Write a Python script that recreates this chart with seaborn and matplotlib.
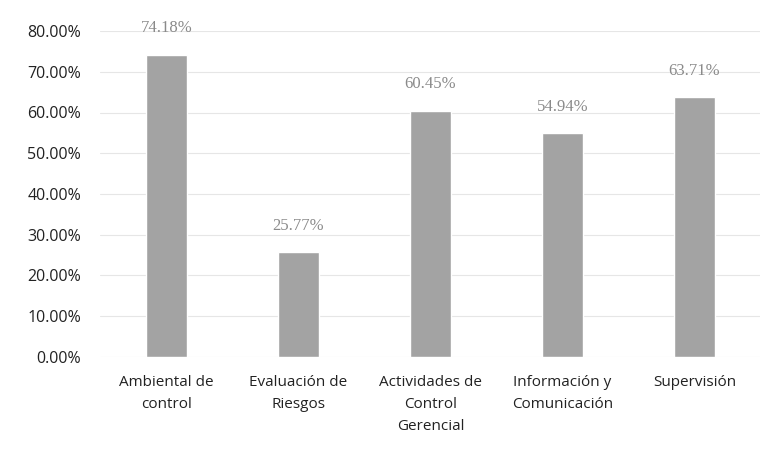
import numpy as np
import pandas as pd
import matplotlib
matplotlib.use("Agg")
import matplotlib.pyplot as plt
import seaborn as sns

sns.set_style("white")
plt.rcParams['font.family'] = ['Open Sans', 'DejaVu Sans']

categorias = ["Ambiental de\ncontrol", "Evaluación de\nRiesgos", "Actividades de\nControl\nGerencial",
              "Información y\nComunicación", "Supervisión"]
valores = [0.7418, 0.2577, 0.6045, 0.5494, 0.6371]
etiquetas = ["74.18%", "25.77%", "60.45%", "54.94%", "63.71%"]
yticks = [0.0, 0.1, 0.2, 0.3, 0.4, 0.5, 0.6, 0.7, 0.8]

df = pd.DataFrame({"cat": categorias, "val": valores})

fig = plt.figure(figsize=(7.72, 4.5), dpi=100)
ax = fig.add_axes([0.13, 0.207, 0.855, 0.724])

sns.barplot(data=df, x="cat", y="val", color="#a3a3a3", width=0.31, ax=ax, zorder=3)

ax.set_ylim(0, 0.8)
ax.set_yticks(yticks)
ax.set_yticklabels(["%.2f%%" % (t * 100) for t in yticks], fontsize=11.5, color="#222222")
ax.grid(axis="y", color="#e6e6e6", linewidth=0.8, zorder=0)
ax.tick_params(axis="x", labelsize=11, colors="#222222", length=0, pad=13)
ax.tick_params(axis="y", length=0, pad=14)
for lab in ax.get_xticklabels():
    lab.set_linespacing(1.65)
ax.set_xlabel("")
ax.set_ylabel("")
for s in ax.spines.values():
    s.set_visible(False)

for i, (v, t) in enumerate(zip(valores, etiquetas)):
    ax.annotate(t, (i, v), xytext=(0, 19), textcoords="offset points",
                ha="center", va="center", fontsize=12, color="#8a8a8a",
                family=["Liberation Serif", "DejaVu Serif"])

fig.savefig("out.png", dpi=100)
